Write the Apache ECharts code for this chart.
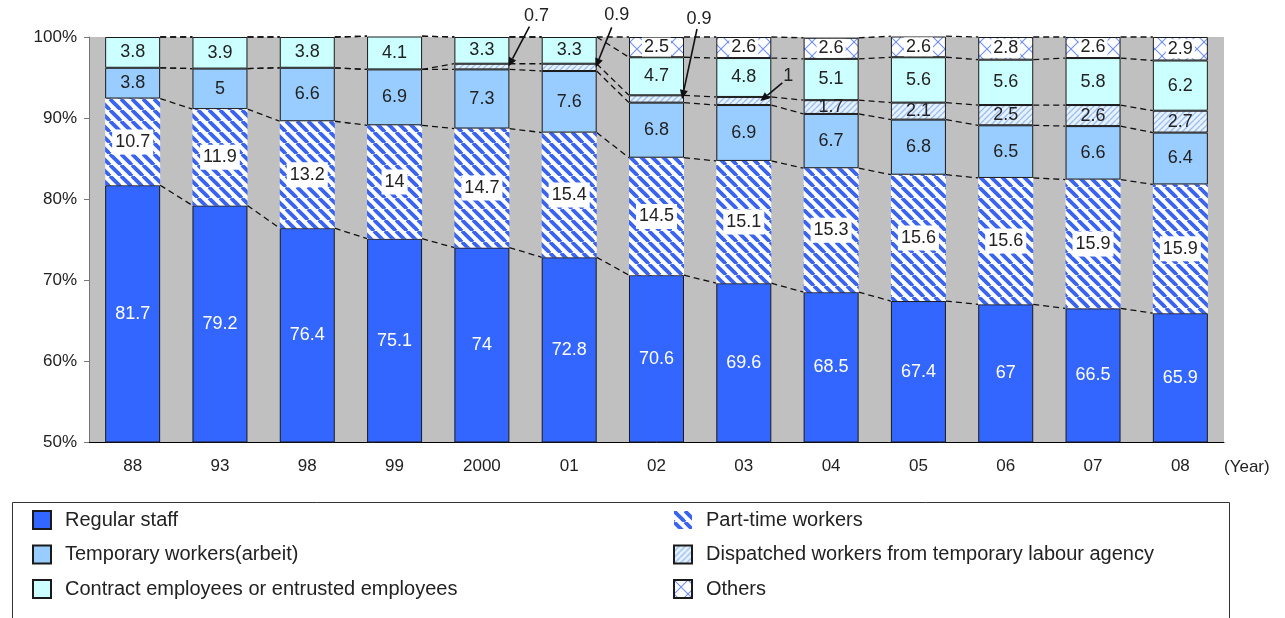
<!DOCTYPE html>
<html>
<head>
<meta charset="utf-8">
<script src="https://cdn.jsdelivr.net/npm/echarts@6/dist/echarts.min.js"></script>
<style>
  html, body { margin: 0; padding: 0; background: #fff; }
  #chart { width: 1285px; height: 618px; }
</style>
</head>
<body>
<div id="chart"></div>
<script>
// Employment type shares (%), stacked bottom to top
const years = ['88', '93', '98', '99', '2000', '01', '02', '03', '04', '05', '06', '07', '08'];
const regularStaff = [81.7, 79.2, 76.4, 75.1, 74, 72.8, 70.6, 69.6, 68.5, 67.4, 67, 66.5, 65.9];
const partTime     = [10.7, 11.9, 13.2, 14, 14.7, 15.4, 14.5, 15.1, 15.3, 15.6, 15.6, 15.9, 15.9];
const temporary    = [3.8, 5, 6.6, 6.9, 7.3, 7.6, 6.8, 6.9, 6.7, 6.8, 6.5, 6.6, 6.4];
const dispatched   = [null, null, null, null, 0.7, 0.9, 0.9, 1, 1.7, 2.1, 2.5, 2.6, 2.7];
const contract     = [3.8, 3.9, 3.8, 4.1, 3.3, 3.3, 4.7, 4.8, 5.1, 5.6, 5.6, 5.8, 6.2];
const others       = [null, null, null, null, null, null, 2.5, 2.6, 2.6, 2.6, 2.8, 2.6, 2.9];

const seriesNames = [
  'Regular staff',
  'Part-time workers',
  'Temporary workers(arbeit)',
  'Dispatched workers from temporary labour agency',
  'Contract employees or entrusted employees',
  'Others'
];

const FONT = '"Liberation Sans", Arial, sans-serif';
const BAR_RATIO = 0.63;

// running totals at each segment's top edge, used for the dashed connectors
const stackOrder = [regularStaff, partTime, temporary, dispatched, contract, others];
const cumulative = stackOrder.map((_, k) =>
  years.map((__, i) => stackOrder.slice(0, k + 1).reduce((s, arr) => s + (arr[i] || 0), 0))
);

// small dispatched shares are labelled with a callout arrow instead of in the bar
const calloutIdx = dispatched.map((v, i) => (v != null && v < 1.5 ? i : -1)).filter(i => i >= 0);
const calloutLayout = {
  4: { inset: 1,  label: [28, -51], tail: [21, -40] },
  5: { inset: 1,  label: [21, -52], tail: [16, -40] },
  6: { inset: 2,  label: [17, -80], tail: [15, -70] },
  7: { inset: 11, label: [28, -25], tail: [22, -18] }
};

function makePattern(w, h, draw) {
  const c = document.createElement('canvas');
  c.width = w; c.height = h;
  draw(c.getContext('2d'), w, h);
  return { image: c, repeat: 'repeat' };
}

const partTimeFill = makePattern(11, 11, (g, s) => {
  g.fillStyle = '#ffffff'; g.fillRect(0, 0, s, s);
  g.strokeStyle = '#3a64f0'; g.lineWidth = 3.8;
  for (const k of [-1, 0, 1]) { g.beginPath(); g.moveTo(k * s, 0); g.lineTo(k * s + s, s); g.stroke(); }
});
const dispatchedFill = makePattern(6, 6, (g, s) => {
  g.fillStyle = '#e6f2ff'; g.fillRect(0, 0, s, s);
  g.strokeStyle = '#9dbff0'; g.lineWidth = 1.4;
  for (const k of [0, 1, 2]) { g.beginPath(); g.moveTo(k * s, 0); g.lineTo(k * s - s, s); g.stroke(); }
});
const othersFill = makePattern(14, 14, (g, s) => {
  g.fillStyle = '#ffffff'; g.fillRect(0, 0, s, s);
  g.strokeStyle = '#6f8ef0'; g.lineWidth = 1.1;
  g.beginPath(); g.moveTo(0, 0); g.lineTo(s, s); g.stroke();
  g.beginPath(); g.moveTo(s, 0); g.lineTo(0, s); g.stroke();
});

const labelBase = { show: true, position: 'inside', fontSize: 18, fontFamily: FONT, color: '#222' };

function barSeries(name, data, fill, label, border) {
  return {
    name, type: 'bar', stack: 'total', data,
    barWidth: (BAR_RATIO * 100) + '%',
    itemStyle: { color: fill, borderColor: '#1a1a1a', borderWidth: border },
    label: Object.assign({}, labelBase, label),
    emphasis: { disabled: true }
  };
}

const legendCommon = {
  orient: 'vertical', top: 505,
  itemWidth: 18, itemHeight: 18, itemGap: 14.5, icon: 'rect',
  selectedMode: false,
  textStyle: { fontSize: 20, fontFamily: FONT, color: '#222', padding: [0, 0, 0, 9] }
};

const chart = echarts.init(document.getElementById('chart'));

chart.setOption({
  animation: false,
  grid: {
    left: 89, right: 61, top: 37, bottom: 176,
    show: true, backgroundColor: '#c0c0c0', borderWidth: 0
  },
  xAxis: {
    type: 'category',
    data: years,
    axisLine: { lineStyle: { color: '#000', width: 1 } },
    axisTick: { inside: true, length: 4, lineStyle: { color: '#000' } },
    axisLabel: { margin: 16, fontSize: 17, fontFamily: FONT, color: '#222' },
    name: '(Year)',
    nameLocation: 'end',
    nameGap: 0,
    nameTextStyle: { fontSize: 17, fontFamily: FONT, color: '#222', verticalAlign: 'top', align: 'left', padding: [17, 0, 0, 0] }
  },
  yAxis: {
    type: 'value', min: 50, max: 100, interval: 10,
    axisLine: { show: true, lineStyle: { color: '#777' } },
    axisTick: { show: true, length: 5, lineStyle: { color: '#777' } },
    splitLine: { show: false },
    axisLabel: { formatter: '{value}%', margin: 12, fontSize: 17, fontFamily: FONT, color: '#222' }
  },
  legend: [
    Object.assign({ data: [seriesNames[0], seriesNames[2], seriesNames[4]], left: 27 }, legendCommon),
    Object.assign({ data: [seriesNames[1], seriesNames[3], seriesNames[5]], left: 668 }, legendCommon)
  ],
  graphic: [{
    type: 'rect',
    shape: { x: 12.5, y: 502.5, width: 1217, height: 140 },
    style: { fill: 'none', stroke: '#333', lineWidth: 1 },
    silent: true
  }],
  series: [
    barSeries(seriesNames[0], regularStaff, '#3366ff', { color: '#fff' }, 1),
    barSeries(seriesNames[1], partTime, partTimeFill, { backgroundColor: '#fff', padding: [4, 3, 3, 3] }, 0),
    barSeries(seriesNames[2], temporary, '#99ccff', {}, 1),
    barSeries(seriesNames[3], dispatched, dispatchedFill,
      { formatter: p => (p.value >= 1.5 ? p.value : '') }, 1),
    barSeries(seriesNames[4], contract, '#ccffff', {}, 1),
    barSeries(seriesNames[5], others, othersFill, { backgroundColor: '#fff', padding: [1, 2, 0, 2] }, 1),
    {
      // dashed lines joining each segment boundary of neighbouring bars
      type: 'custom',
      silent: true,
      data: years.slice(0, -1).map((_, i) => [i, 100]),
      encode: { x: 0, y: 1 },
      z: 1,
      renderItem(params, api) {
        const i = api.value(0);
        const half = api.size([1, 0])[0] * BAR_RATIO / 2;
        return {
          type: 'group',
          children: cumulative.map(cum => {
            const a = api.coord([i, cum[i]]);
            const b = api.coord([i + 1, cum[i + 1]]);
            return {
              type: 'line',
              shape: { x1: a[0] + half, y1: a[1], x2: b[0] - half, y2: b[1] },
              style: { stroke: '#111', lineWidth: 1.3, lineDash: [6, 4] }
            };
          })
        };
      }
    },
    {
      // callout arrows for thin dispatched segments
      type: 'custom',
      silent: true,
      data: calloutIdx.map(i => [i, cumulative[2][i] + dispatched[i] / 2]),
      encode: { x: 0, y: 1 },
      z: 10,
      renderItem(params, api) {
        const i = api.value(0);
        const L = calloutLayout[i] || { inset: 2, label: [20, -50], tail: [16, -40] };
        const half = api.size([1, 0])[0] * BAR_RATIO / 2;
        const p = api.coord([i, api.value(1)]);
        const tx = p[0] + half - L.inset, ty = p[1];
        const sx = tx + L.tail[0], sy = ty + L.tail[1];
        const ang = Math.atan2(ty - sy, tx - sx);
        const ah = 9, aw = 4;
        const bx = tx - ah * Math.cos(ang), by = ty - ah * Math.sin(ang);
        const nx = Math.sin(ang), ny = -Math.cos(ang);
        return {
          type: 'group',
          children: [
            { type: 'line', shape: { x1: sx, y1: sy, x2: bx, y2: by }, style: { stroke: '#111', lineWidth: 1.6 } },
            { type: 'polygon', shape: { points: [[tx, ty], [bx + aw * nx, by + aw * ny], [bx - aw * nx, by - aw * ny]] }, style: { fill: '#111' } },
            { type: 'text', x: tx + L.label[0], y: ty + L.label[1],
              style: { text: String(dispatched[i]), fontSize: 18, fontFamily: FONT, fill: '#222', align: 'center', verticalAlign: 'middle' } }
          ]
        };
      }
    }
  ]
});
</script>
</body>
</html>
